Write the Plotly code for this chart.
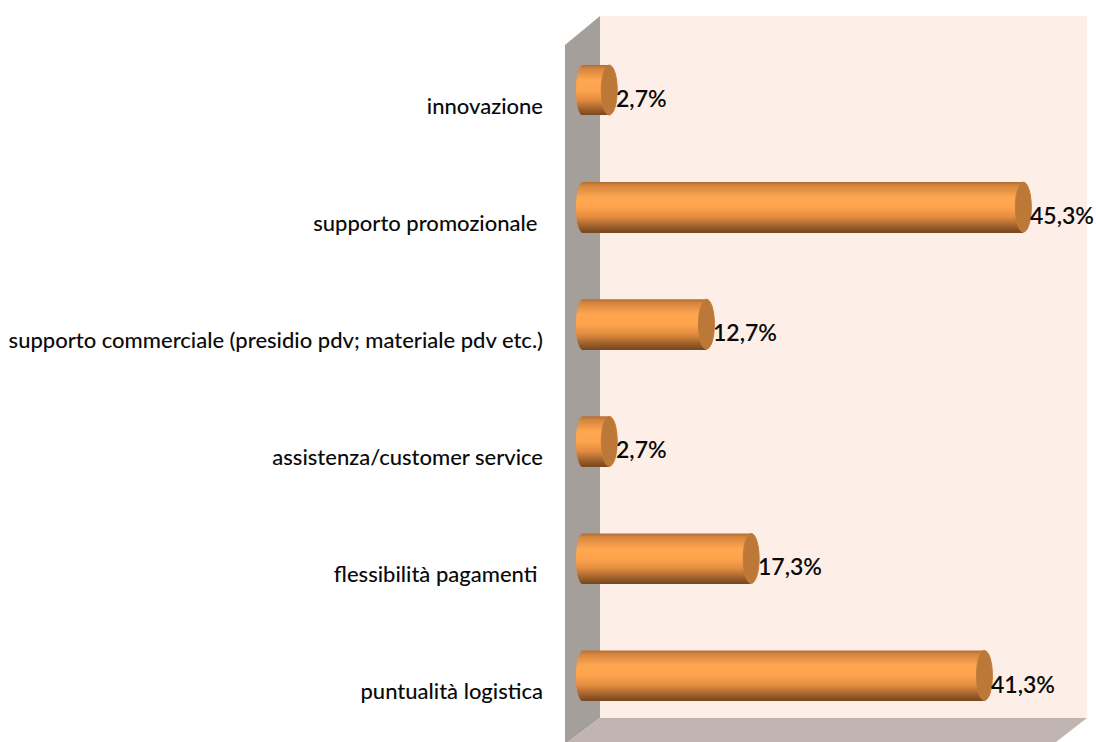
import math
import plotly.graph_objects as go

categories = ["innovazione", "supporto promozionale\u00a0", "supporto commerciale (presidio pdv; materiale pdv etc.)",
              "assistenza/customer service", "flessibilità pagamenti\u00a0", "puntualità logistica"]
values = [2.7, 45.3, 12.7, 2.7, 17.3, 41.3]
value_labels = ["2,7%", "45,3%", "12,7%", "2,7%", "17,3%", "41,3%"]

W, H = 1096, 742
L = 544
X0, KX = 583.0, 9.72     # px of value 0, px per unit
Y0, KY = 90.0, 117.1     # px of first category, px per step
BAR_H = 50.0
CAP_A = 8.0
LEFT_A = 7.0
N = 50

positions = list(range(len(categories)))

# colour stops along the cylinder height (0 top .. 1 bottom)
stops = [(0.0, (176, 108, 48)), (0.07, (214, 133, 62)), (0.30, (254, 166, 80)), (0.50, (254, 164, 78)),
         (0.70, (226, 140, 64)), (0.86, (168, 102, 46)), (1.0, (118, 72, 32))]

def colour(t):
    for (a, ca), (b, cb) in zip(stops, stops[1:]):
        if a <= t <= b:
            f = (t - a) / (b - a)
            return "rgb(%d,%d,%d)" % tuple(round(p + (q - p) * f) for p, q in zip(ca, cb))
    return "rgb(118,72,32)"

fig = go.Figure()
step = 1.0 / N
for s in range(N):
    t = (s + 0.5) * step
    u = 2 * t - 1
    base = -LEFT_A * math.sqrt(max(0, 1 - u * u)) / KX
    h = BAR_H / KY
    fig.add_trace(go.Bar(
        y=positions, x=[v - base for v in values], base=base, orientation="h",
        width=h * step * (2.0 if s < N - 1 else 1.0), offset=-h / 2 + s * step * h,
        marker=dict(color=colour(t), line=dict(width=0)),
        showlegend=False, hoverinfo="skip"))

def px(x): return (x - L) / (W - L)
def py(y): return 1 - y / H

def poly(points, color):
    d = "M " + " L ".join(f"{px(x):.5f},{py(y):.5f}" for x, y in points) + " Z"
    return dict(type="path", xref="paper", yref="paper", path=d, fillcolor=color,
                line=dict(width=0), layer="below")

shapes = [
    poly([(600, 16), (1087, 16), (1087, 718), (600, 718)], "#FDEFE8"),
    poly([(565, 45), (600, 16), (600, 718), (568, 742), (565, 742)], "#A59F9C"),
    poly([(600, 718), (1087, 718), (1056, 742), (568, 742)], "#C1B5B1"),
]
for p, v in zip(positions, values):
    shapes.append(dict(type="circle", layer="above", xref="x", yref="y",
                       xsizemode="pixel", ysizemode="pixel", xanchor=v, yanchor=p,
                       x0=-CAP_A, x1=CAP_A, y0=-BAR_H / 2, y1=BAR_H / 2,
                       fillcolor="#BC7836", line=dict(width=1, color="#C47D3A")))

annotations = [dict(x=v, y=p, xref="x", yref="y", text=t, showarrow=False, xanchor="left", yanchor="middle",
                    xshift=CAP_A - 3.5, yshift=-8, font=dict(family="Lato", size=23, color="#0A0A0A", weight=600))
               for p, v, t in zip(positions, values, value_labels)]

fig.update_layout(
    width=W, height=H, margin=dict(l=L, r=0, t=0, b=0), autosize=False,
    paper_bgcolor="white", plot_bgcolor="rgba(0,0,0,0)",
    barmode="overlay", showlegend=False, shapes=shapes, annotations=annotations,
    xaxis=dict(range=[(L - X0) / KX, (W - X0) / KX], visible=False, fixedrange=True),
    yaxis=dict(range=[(H - Y0) / KY, -Y0 / KY], tickmode="array",
               tickvals=[p + 16 / KY for p in positions], ticktext=categories,
               ticks="", showgrid=False, zeroline=False, showline=False, fixedrange=True,
               tickfont=dict(family="Lato", size=22, color="#0A0A0A", weight=500)),
)
fig.write_html("out.html", post_script="document.body.style.margin='0';", config=dict(displayModeBar=False))
